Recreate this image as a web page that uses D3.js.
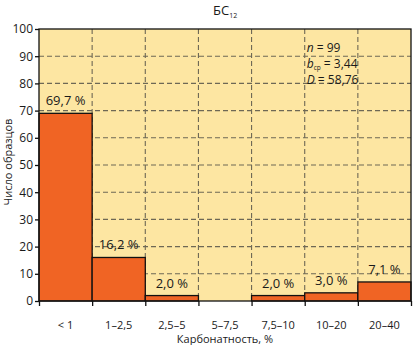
<!DOCTYPE html>
<html>
<head>
<meta charset="utf-8">
<script src="https://cdn.jsdelivr.net/npm/d3@7"></script>
<style>
  body { margin: 0; background: #fff; }
  text { font-family: "Open Sans", "Noto Sans", sans-serif; fill: #1a1a1a; }
</style>
</head>
<body>
<div id="chart"></div>
<script>
// data
var categories = ["< 1", "1–2,5", "2,5–5", "5–7,5", "7,5–10", "10–20", "20–40"];
var counts = [69, 16, 2, 0, 2, 3, 7];
var percentLabels = ["69,7 %", "16,2 %", "2,0 %", "", "2,0 %", "3,0 %", "7,1 %"];
var yTicks = [0, 10, 20, 30, 40, 50, 60, 70, 80, 90, 100];

var margin = { top: 29, right: 2, bottom: 44, left: 39 },
    width = 413 - margin.left - margin.right,
    height = 345 - margin.top - margin.bottom;

var svg = d3.select("#chart").append("svg")
    .attr("width", 413)
    .attr("height", 345);

var g = svg.append("g")
    .attr("transform", "translate(" + margin.left + "," + margin.top + ")");

var x = d3.scaleBand().domain(categories).range([0, width]).padding(0);
var y = d3.scaleLinear().domain([0, 100]).range([height, 0]);

// background
g.append("rect")
    .attr("width", width)
    .attr("height", height)
    .attr("fill", "#fde6a2");

// grid
g.selectAll(".hgrid")
    .data(yTicks.slice(1, -1))
    .enter().append("line")
    .attr("x1", 0).attr("x2", width)
    .attr("y1", function (d) { return y(d); })
    .attr("y2", function (d) { return y(d); })
    .attr("stroke", "#6e6855")
    .attr("stroke-width", 1.1)
    .attr("stroke-dasharray", "5,3");

g.selectAll(".vgrid")
    .data(categories.slice(1))
    .enter().append("line")
    .attr("x1", function (d) { return x(d); })
    .attr("x2", function (d) { return x(d); })
    .attr("y1", 0).attr("y2", height)
    .attr("stroke", "#6e6855")
    .attr("stroke-width", 1.1)
    .attr("stroke-dasharray", "5,3");

// bars
g.selectAll(".bar")
    .data(counts)
    .enter().append("rect")
    .attr("x", function (d, i) { return x(categories[i]); })
    .attr("y", function (d) { return y(d); })
    .attr("width", x.bandwidth())
    .attr("height", function (d) { return height - y(d); })
    .attr("fill", "#f06424")
    .attr("stroke", "#111")
    .attr("stroke-width", 1.3);

// value labels
g.selectAll(".lbl")
    .data(counts)
    .enter().append("text")
    .attr("x", function (d, i) { return x(categories[i]) + x.bandwidth() / 2; })
    .attr("y", function (d) { return y(d) - 8; })
    .attr("text-anchor", "middle")
    .style("font-size", "13px")
    .text(function (d, i) { return percentLabels[i]; });

// frame
g.append("rect")
    .attr("width", width)
    .attr("height", height)
    .attr("fill", "none")
    .attr("stroke", "#111")
    .attr("stroke-width", 1.3);

// axes
var yAxis = g.append("g")
    .call(d3.axisLeft(y).tickValues(yTicks).tickSize(4).tickPadding(2));
yAxis.select(".domain").remove();
yAxis.selectAll("text").style("font-size", "12px").style("font-family", "Open Sans, sans-serif");

var xAxis = g.append("g")
    .attr("transform", "translate(0," + height + ")")
    .call(d3.axisBottom(d3.scaleLinear().domain([0, 7]).range([0, width]))
        .tickValues(d3.range(0, 8)).tickSize(5).tickFormat(""));
xAxis.select(".domain").remove();
xAxis.selectAll("line").attr("stroke", "#111").attr("stroke-width", 1.3);
yAxis.selectAll("line").attr("stroke", "#111").attr("stroke-width", 1.3);

g.selectAll(".cat")
    .data(categories)
    .enter().append("text")
    .attr("x", function (d) { return x(d) + x.bandwidth() / 2; })
    .attr("y", height + 28)
    .attr("text-anchor", "middle")
    .style("font-size", "11px")
    .text(function (d) { return d; });

// axis titles
svg.append("text")
    .attr("x", 225)
    .attr("y", 343)
    .attr("text-anchor", "middle")
    .style("font-size", "11px")
    .text("Карбонатность, %");

svg.append("text")
    .attr("transform", "translate(12,162) rotate(-90)")
    .attr("text-anchor", "middle")
    .style("font-size", "11px")
    .text("Число образцов");

// title
var title = svg.append("text")
    .attr("x", 213)
    .attr("y", 15)
    .style("font-size", "13px");
title.append("tspan").text("БС");
title.append("tspan").attr("dy", 3).style("font-size", "7px").text("12");

// stats
var sx = x(categories[5]) + 2;
var stats = g.append("text")
    .attr("x", sx)
    .attr("y", 23)
    .style("font-size", "12px");
stats.append("tspan").style("font-style", "italic").text("n");
stats.append("tspan").text(" = 99");
var s2 = g.append("text")
    .attr("x", sx)
    .attr("y", 39)
    .style("font-size", "12px");
s2.append("tspan").style("font-style", "italic").text("b");
s2.append("tspan").attr("dy", 2).style("font-size", "6.5px").text("ср");
s2.append("tspan").attr("dy", -2).text(" = 3,44");
var s3 = g.append("text")
    .attr("x", sx)
    .attr("y", 55)
    .style("font-size", "12px");
s3.append("tspan").style("font-style", "italic").text("D");
s3.append("tspan").text(" = 58,76");
</script>
</body>
</html>
